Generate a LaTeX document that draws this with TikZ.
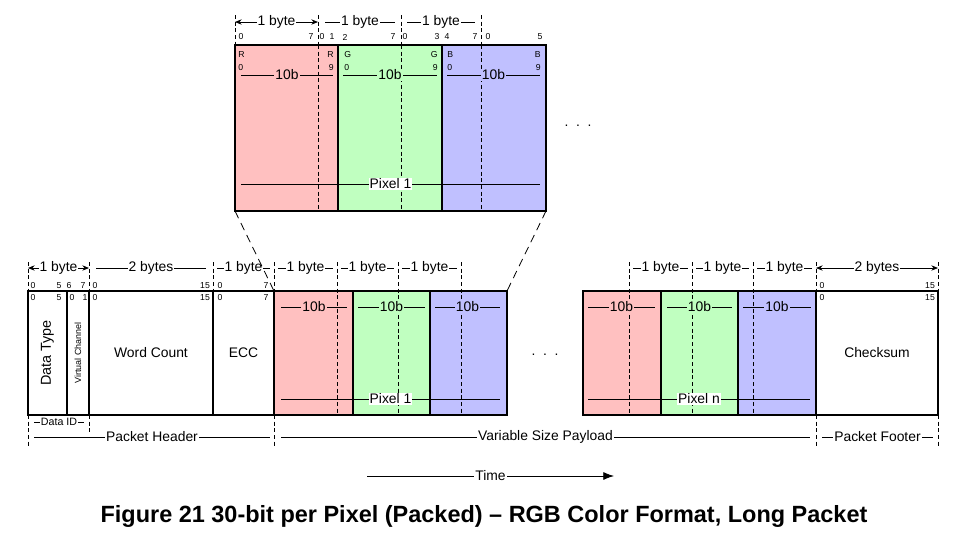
\documentclass[tikz,border=0pt]{standalone}
\usepackage{fontspec}
\setmainfont{Liberation Sans}
\usetikzlibrary{arrows.meta,fit}
\definecolor{rfill}{HTML}{FFC0C0}
\definecolor{gfill}{HTML}{C0FFC0}
\definecolor{bfill}{HTML}{C0C0FF}
\tikzset{
  cell/.style={draw, line width=2.2pt, inner sep=0pt, outer sep=0pt},
  thinl/.style={line width=0.6pt},
  byteline/.style={line width=0.6pt, dash pattern=on 3pt off 2pt},
  zoomline/.style={line width=0.6pt, dash pattern=on 6pt off 4pt},
  lbl/.style={font=\fontsize{10.4}{12}\selectfont, inner sep=0.8pt},
  bit/.style={font=\fontsize{6.5}{7}\selectfont, inner sep=0pt},
  tinylbl/.style={font=\fontsize{8}{9}\selectfont, inner sep=1pt, fill=white},
  spanarrow/.style={line width=0.6pt, {Stealth[length=5pt,width=4pt]}-{Stealth[length=5pt,width=4pt]}},
}
\begin{document}
\begin{tikzpicture}[x=0.75pt, y=-0.75pt]
\useasboundingbox[fill=white] (0,0) rectangle (964,536);

% ---------- top (zoomed) pixel ----------
\node[cell, fill=rfill, fit={(235,45)(338,211)}] (TR) {};
\node[cell, fill=gfill, fit={(338,45)(442,211)}] (TG) {};
\node[cell, fill=bfill, fit={(442,45)(546,211)}] (TB) {};

% byte boundaries (top)
\foreach \x in {235,318,401,481} \draw[byteline] (\x,15) -- (\x,45);
\foreach \x in {318,401,481} \draw[byteline] (\x,45) -- (\x,211);
\draw[spanarrow] (235,22) -- (318,22) node[midway, lbl, fill=white] {1 byte};
\draw[thinl] (325,22) -- (395,22) node[midway, lbl, fill=white] {1 byte};
\draw[thinl] (407,22) -- (475,22) node[midway, lbl, fill=white] {1 byte};

% bit numbers (top)
\foreach \x/\t in {241/0,311/7,322/0,332/1,345/2,393/7,405/0,437/3,447/4,475/7,488/0,540/5}
  \node[bit] at (\x,37) {\t};
\node[bit, anchor=west] at (238,55) {R};
\node[bit, anchor=west] at (238,68) {0};
\node[bit, anchor=east] at (334,55) {R};
\node[bit, anchor=east] at (334,68) {9};
\node[bit, anchor=west] at (344,55) {G};
\node[bit, anchor=west] at (344,68) {0};
\node[bit, anchor=east] at (438,55) {G};
\node[bit, anchor=east] at (438,68) {9};
\node[bit, anchor=west] at (447,55) {B};
\node[bit, anchor=west] at (447,68) {0};
\node[bit, anchor=east] at (541,55) {B};
\node[bit, anchor=east] at (541,68) {9};

\draw[thinl] (241,75) -- (333,75) node[midway, lbl, fill=rfill] {10b};
\draw[thinl] (343,75) -- (437,75) node[midway, lbl, fill=gfill] {10b};
\draw[thinl] (447,75) -- (540,75) node[midway, lbl, fill=bfill] {10b};
\draw[thinl] (241,184) -- (540,184) node[pos=0.5, lbl, fill=white] {Pixel 1};

\node[lbl] (dotsA) at (578,126) {.\ \ .\ \ .};

% ---------- bottom packet ----------
\node[cell, fit={(28,291)(67,415)}] (DT) {};
\node[cell, fit={(67,291)(89,415)}] (VC) {};
\node[cell, fit={(89,291)(213,415)}] (WC) {};
\node[cell, fit={(213,291)(274,415)}] (ECC) {};
\node[cell, fill=rfill, fit={(274,291)(353,415)}] (P1R) {};
\node[cell, fill=gfill, fit={(353,291)(430,415)}] (P1G) {};
\node[cell, fill=bfill, fit={(430,291)(507,415)}] (P1B) {};
\node[cell, fill=rfill, fit={(583,291)(661,415)}] (PnR) {};
\node[cell, fill=gfill, fit={(661,291)(738,415)}] (PnG) {};
\node[cell, fill=bfill, fit={(738,291)(816,415)}] (PnB) {};
\node[cell, fit={(816,291)(938,415)}] (CS) {};

\node[font=\fontsize{10.8}{12}\selectfont, rotate=90, inner sep=0pt] at (DT.center) {Data Type};
\node[font=\fontsize{6.7}{7}\selectfont, rotate=90, inner sep=0pt] at (VC.center) {Virtual Channel};
\node[lbl] at (WC.center) {Word Count};
\node[lbl] at (ECC.center) {ECC};
\node[lbl] at (CS.center) {Checksum};
\node[lbl] (dotsB) at (545,355) {.\ \ .\ \ .};

% byte boundaries (bottom)
\foreach \x in {28,89,213,274,938} \draw[byteline] (\x,262) -- (\x,291);
\foreach \x in {337,398,461,629,692,753,816} \draw[byteline] (\x,262) -- (\x,415);
\draw[spanarrow] (28,268) -- (89,268) node[midway, lbl, fill=white] {1 byte};
\draw[thinl] (96,268) -- (206,268) node[midway, lbl, fill=white] {2 bytes};
\foreach \a/\b in {213/274,274/337,337/398,398/461,629/692,692/753,753/816}
  \draw[thinl] (\a+4,268) -- (\b-4,268) node[midway, lbl, fill=white] {1 byte};
\draw[spanarrow] (816,268) -- (938,268) node[midway, lbl, fill=white] {2 bytes};

% bit numbers (bottom)
\foreach \x/\t in {33/0,59/5,69/6,83/7,95/0,205/15,220/0,266/7,822/0,930/15}
  \node[bit] at (\x,286) {\t};
\foreach \x/\t in {33/0,59/5,72/0,85/1,95/0,205/15,220/0,266/7,822/0,930/15}
  \node[bit] at (\x,298) {\t};

% 10b and pixel lines (bottom)
\draw[thinl] (281,307) -- (347,307) node[midway, lbl, fill=rfill] {10b};
\draw[thinl] (358,307) -- (425,307) node[midway, lbl, fill=gfill] {10b};
\draw[thinl] (435,307) -- (500,307) node[midway, lbl, fill=bfill] {10b};
\draw[thinl] (281,399) -- (500,399) node[pos=0.5, lbl, fill=white] {Pixel 1};
\draw[thinl] (588,307) -- (655,307) node[midway, lbl, fill=rfill] {10b};
\draw[thinl] (667,307) -- (732,307) node[midway, lbl, fill=gfill] {10b};
\draw[thinl] (743,307) -- (811,307) node[midway, lbl, fill=bfill] {10b};
\draw[thinl] (588,399) -- (810,399) node[pos=0.5, lbl, fill=white] {Pixel n};

% zoom lines
\draw[zoomline] (TR.south west) -- (P1R.north west);
\draw[zoomline] (TB.south east) -- (P1B.north east);

% ---------- lower labels ----------
\foreach \x in {28,274,816,938} \draw[byteline] (\x,415) -- (\x,446);
\draw[byteline] (89,415) -- (89,432);
\draw[thinl] (34,422) -- (84,422) node[midway, tinylbl] {Data ID};
\draw[thinl] (34,437) -- (270,437) node[midway, lbl, fill=white] {Packet Header};
\draw[thinl] (281,437) -- (810,437) node[midway, lbl, fill=white] {Variable Size Payload};
\draw[thinl] (822,437) -- (933,437) node[midway, lbl, fill=white] {Packet Footer};

\draw[thinl, -{Latex[length=8pt,width=6pt]}] (367,476) -- (614,476) node[pos=0.5, lbl, fill=white] {Time};

\node[font=\fontsize{17.6}{20}\selectfont\bfseries, inner sep=0pt] (title) at (484,516) {Figure 21 30-bit per Pixel (Packed) – RGB Color Format, Long Packet};
\end{tikzpicture}
\end{document}
